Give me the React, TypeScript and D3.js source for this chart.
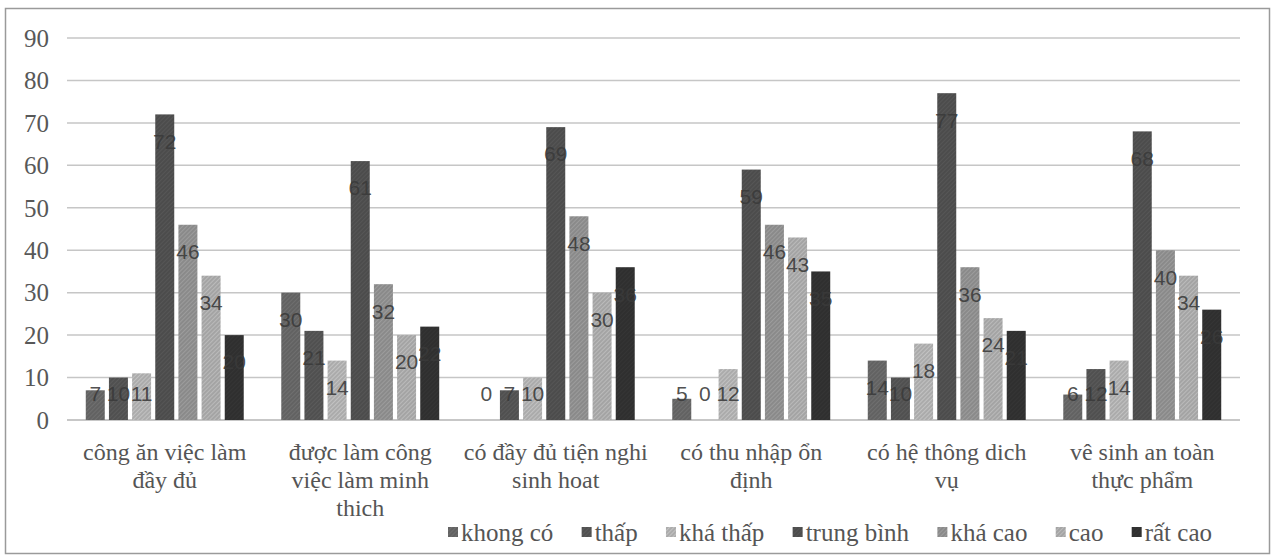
import { useEffect, useRef } from "react";
import * as d3 from "d3";

// categories (line breaks as printed under the axis)
const categories = [
  "công ăn việc làm\nđầy đủ",
  "được làm công\nviệc làm minh\nthich",
  "có đầy đủ tiện nghi\nsinh hoat",
  "có thu nhập ổn\nđịnh",
  "có hệ thông dich\nvụ",
  "vê sinh an toàn\nthực phẩm",
];

const seriesNames = ["khong có", "thấp", "khá thấp", "trung bình", "khá cao", "cao", "rất cao"];

const khongCo = [7, 30, 0, 5, 14, 6];
const thap = [10, 21, 7, 0, 10, 12];
const khaThap = [11, 14, 10, 12, 18, 14];
const trungBinh = [72, 61, 69, 59, 77, 68];
const khaCao = [46, 32, 48, 46, 36, 40];
const cao = [34, 20, 30, 43, 24, 34];
const ratCao = [20, 22, 36, 35, 21, 26];

const seriesValues = [khongCo, thap, khaThap, trungBinh, khaCao, cao, ratCao];
const seriesColors = ["#626262", "#505050", "#ababab", "#4c4c4c", "#8a8a8a", "#a4a4a4", "#2f2f2f"];

const yTicks = [0, 10, 20, 30, 40, 50, 60, 70, 80, 90];

const W = 1275;
const H = 556;
const serif = "'Liberation Serif', 'DejaVu Serif', 'Noto Serif', Tinos, FreeSerif, 'Times New Roman', serif";
const sans = "'Liberation Sans', Arial, sans-serif";

export default function App() {
  const svgRef = useRef<SVGSVGElement>(null);

  useEffect(() => {
    if (!svgRef.current) return;
    const svg = d3.select(svgRef.current);
    svg.selectAll("*").remove();

    const plot = { left: 67, right: 1240, top: 38, bottom: 420 };

    const x0 = d3
      .scaleBand<number>()
      .domain(d3.range(categories.length))
      .range([plot.left, plot.right])
      .paddingInner(0.192)
      .paddingOuter(0.096);

    const x1 = d3
      .scaleBand<number>()
      .domain(d3.range(seriesNames.length))
      .range([0, x0.bandwidth()])
      .paddingInner(0.18)
      .paddingOuter(0);

    const y = d3.scaleLinear().domain([0, 90]).range([plot.bottom, plot.top]);

    // subtle scan-like texture per series
    const defs = svg.append("defs");
    seriesColors.forEach((c, i) => {
      const p = defs
        .append("pattern")
        .attr("id", `tex${i}`)
        .attr("width", 3)
        .attr("height", 3)
        .attr("patternUnits", "userSpaceOnUse")
        .attr("patternTransform", "rotate(45)");
      p.append("rect").attr("width", 3).attr("height", 3).attr("fill", c);
      p.append("rect")
        .attr("width", 1)
        .attr("height", 3)
        .attr("fill", d3.color(c)!.brighter(0.35).formatHex());
    });

    // frame
    svg
      .append("rect")
      .attr("x", 5.5)
      .attr("y", 8.5)
      .attr("width", 1264)
      .attr("height", 545)
      .attr("fill", "#fff")
      .attr("stroke", "#9a9a9a")
      .attr("stroke-width", 1.5);

    // gridlines
    svg
      .append("g")
      .selectAll("line")
      .data(yTicks)
      .join("line")
      .attr("x1", plot.left)
      .attr("x2", plot.right)
      .attr("y1", (d) => y(d))
      .attr("y2", (d) => y(d))
      .attr("stroke", (d) => (d === 0 ? "#b4b4b4" : "#c6c6c6"))
      .attr("stroke-width", 1.5);

    // y tick labels
    svg
      .append("g")
      .selectAll("text")
      .data(yTicks)
      .join("text")
      .attr("x", 49)
      .attr("y", (d) => y(d))
      .attr("dy", "0.35em")
      .attr("text-anchor", "end")
      .style("font-family", serif)
      .attr("font-size", 25)
      .attr("fill", "#585858")
      .text((d) => d);

    // bars
    const groups = svg
      .append("g")
      .selectAll("g")
      .data(categories.map((_, ci) => ci))
      .join("g")
      .attr("transform", (ci) => `translate(${x0(ci)},0)`);

    groups
      .selectAll("rect")
      .data((ci) => seriesValues.map((vals, si) => ({ si, v: vals[ci] })))
      .join("rect")
      .attr("x", (d) => x1(d.si)!)
      .attr("y", (d) => y(d.v))
      .attr("width", x1.bandwidth())
      .attr("height", (d) => y(0) - y(d.v))
      .attr("fill", (d) => `url(#tex${d.si})`);

    // data labels (inside end, kept above the axis for short bars)
    groups
      .selectAll("text")
      .data((ci) => seriesValues.map((vals, si) => ({ si, v: vals[ci] })))
      .join("text")
      .attr("x", (d) => x1(d.si)! + x1.bandwidth() / 2)
      .attr("y", (d) => Math.min(y(d.v) + 27, y(0) - 26))
      .attr("dy", "0.35em")
      .attr("text-anchor", "middle")
      .style("font-family", sans)
      .attr("font-size", 21)
      .attr("fill", "#3a3a3a")
      .attr("fill-opacity", 0.9)
      .text((d) => d.v);

    // category labels
    const cat = svg
      .append("g")
      .selectAll("text")
      .data(categories)
      .join("text")
      .attr("x", (_, i) => x0(i)! + x0.bandwidth() / 2)
      .attr("y", 452)
      .attr("text-anchor", "middle")
      .style("font-family", serif)
      .attr("font-size", 24)
      .attr("fill", "#555");
    cat
      .selectAll("tspan")
      .data((d) => d.split("\n"))
      .join("tspan")
      .attr("x", function () {
        return (this.parentNode as SVGTextElement).getAttribute("x");
      })
      .attr("dy", (_, i) => (i === 0 ? "0.35em" : "28"))
      .text((d) => d);

    // legend
    const legendY = 532;
    const legend = svg.append("g");
    const items = legend
      .selectAll("g")
      .data(seriesNames)
      .join("g");
    items
      .append("rect")
      .attr("width", 10)
      .attr("height", 10)
      .attr("y", legendY - 5)
      .attr("fill", (_, i) => `url(#tex${i})`);
    items
      .append("text")
      .attr("x", 13)
      .attr("y", legendY)
      .attr("dy", "0.35em")
      .style("font-family", serif)
      .attr("font-size", 25)
      .attr("fill", "#555")
      .text((d) => d);

    const widths: number[] = [];
    items.each(function () {
      const t = d3.select(this).select("text").node() as SVGTextElement;
      widths.push(13 + t.getComputedTextLength());
    });
    // spread the legend over the same span as the reference (≈448–1212)
    const span = 764;
    const gap = Math.max(14, (span - d3.sum(widths)) / (widths.length - 1));
    const total = d3.sum(widths) + gap * (widths.length - 1);
    let cx = 830 - total / 2;
    items.attr("transform", (_, i) => {
      const tx = cx;
      cx += widths[i] + gap;
      return `translate(${tx},0)`;
    });
  }, []);

  return (
    <div style={{ position: "absolute", left: 0, top: 0, background: "#fff" }}>
      <svg ref={svgRef} width={W} height={H} style={{ display: "block" }} />
    </div>
  );
}
